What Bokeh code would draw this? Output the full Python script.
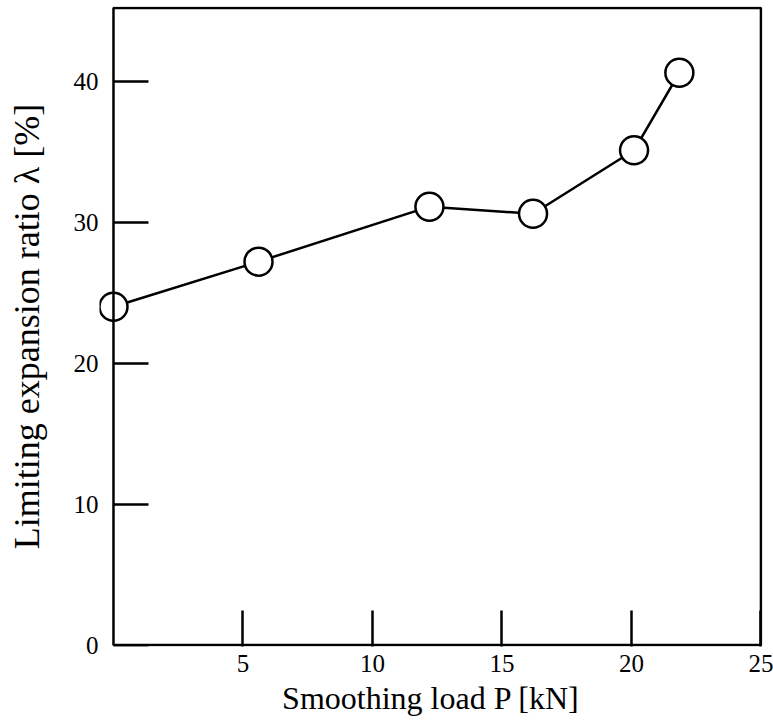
from bokeh.plotting import figure
from bokeh.models import Range1d, FixedTicker, BoxAnnotation, LinearAxis
from bokeh.embed import file_html
from bokeh.resources import INLINE

load_kN = [0.0, 5.6, 12.2, 16.2, 20.1, 21.85]
ratio_pct = [24.0, 27.2, 31.1, 30.6, 35.1, 40.6]
x_ticks = [5, 10, 15, 20, 25]
y_ticks = [0, 10, 20, 30, 40]
x_lim = [0, 25]
y_lim = [0, 45.2]

FONT = "Liberation Serif"

p = figure(width=773, height=723, output_backend="svg", toolbar_location=None,
           x_range=Range1d(-0.54, 25.06), y_range=Range1d(-0.1, 45.3),
           min_border_left=99, min_border_right=11, min_border_top=6, min_border_bottom=77)
p.grid.visible = False
p.background_fill_color = "white"
p.border_fill_color = "white"
p.outline_line_color = None

xa = p.xaxis[0]
ya = p.yaxis[0]
for ax in (xa, ya):
    ax.axis_line_color = None
    ax.minor_tick_line_color = None
    ax.major_label_text_font = FONT
    ax.major_label_text_font_size = "25px"
    ax.major_label_text_color = "black"
    ax.axis_label_text_font = FONT
    ax.axis_label_text_font_style = "normal"
    ax.axis_label_text_color = "black"

xa.ticker = FixedTicker(ticks=x_ticks)
xa.major_tick_line_width = 2.5
xa.major_tick_line_color = "black"
xa.major_tick_in = 36
xa.major_tick_out = 0
xa.major_label_standoff = 8
xa.axis_label = "Smoothing load P [kN]"
xa.axis_label_text_font_size = "32px"
xa.axis_label_standoff = 5

ya.ticker = FixedTicker(ticks=y_ticks)
ya.major_tick_line_color = None
ya.major_tick_in = 0
ya.major_tick_out = 0
ya.major_label_standoff = 1
ya.axis_label = "Limiting expansion ratio λ [%]"
ya.axis_label_text_font_size = "36px"
ya.axis_label_standoff = 24

# tick marks of the y axis, drawn at x = 0
yt = LinearAxis(ticker=FixedTicker(ticks=y_ticks), fixed_location=0,
                axis_line_color=None, minor_tick_line_color=None,
                major_tick_line_color="black", major_tick_line_width=2.5,
                major_tick_in=35, major_tick_out=0,
                major_label_text_font_size="0px", major_label_text_color=None,
                major_label_standoff=0)
p.add_layout(yt, "left")

frame = BoxAnnotation(left=x_lim[0], right=x_lim[1], bottom=y_lim[0], top=y_lim[1],
                      fill_alpha=0, line_color="black", line_alpha=1.0, line_width=2.5)
p.add_layout(frame)

p.line(load_kN, ratio_pct, line_color="black", line_width=2.5)
p.scatter(load_kN, ratio_pct, marker="circle", size=28, fill_color="white",
          line_color="black", line_width=2.5)

open("out.html", "w").write(file_html(p, INLINE))
